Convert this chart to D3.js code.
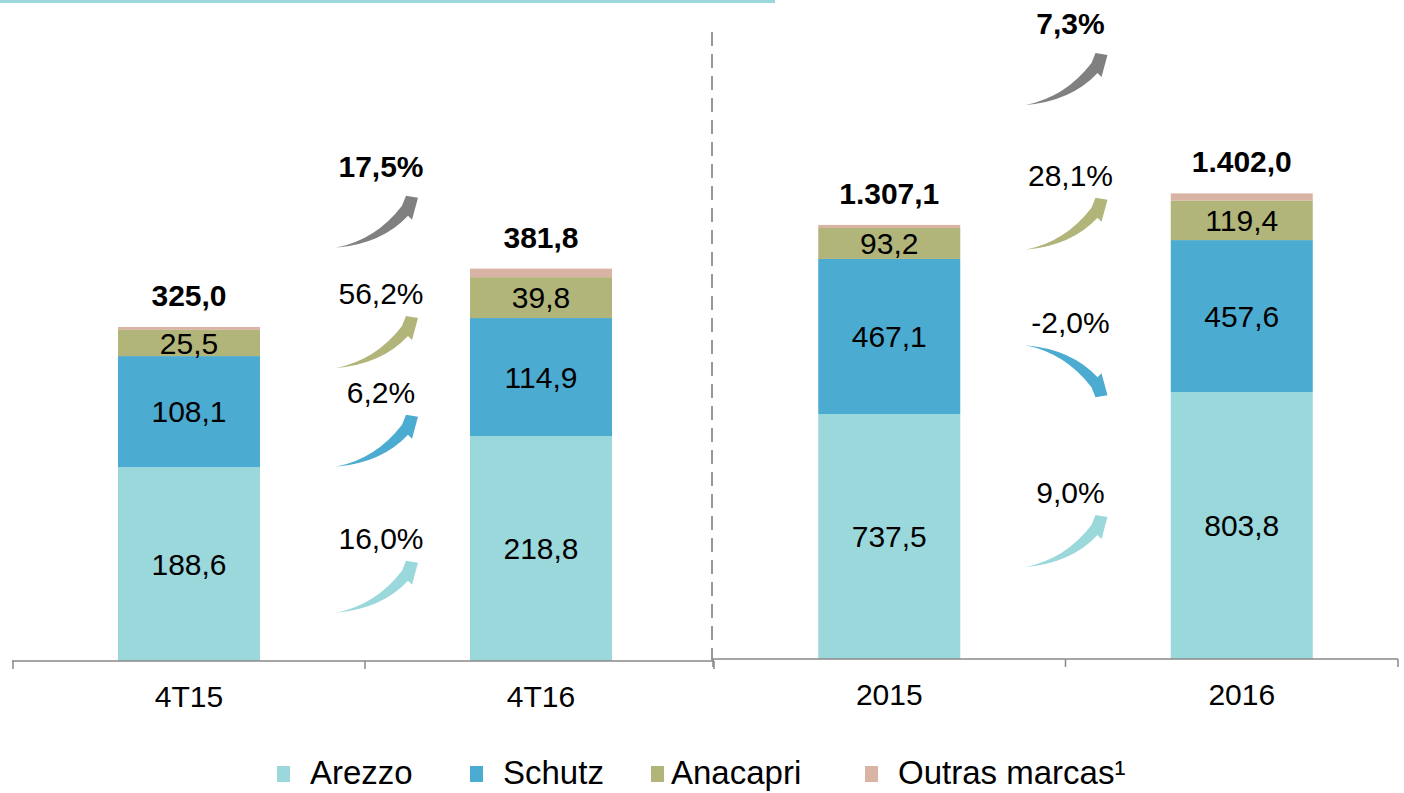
<!DOCTYPE html>
<html>
<head>
<meta charset="utf-8">
<script src="https://cdn.jsdelivr.net/npm/d3@7"></script>
<style>
  body { margin: 0; background: #fff; }
  text { font-family: Arial, "Liberation Sans", sans-serif; fill: #000; }
</style>
</head>
<body>
<div class="canva"></div>
<script>
// data
const brands = ["Arezzo", "Schutz", "Anacapri", "Outras marcas"];
const legendLabels = ["Arezzo", "Schutz", "Anacapri", "Outras marcas\u00b9"];
const brandColors = ["#9ad8dc", "#4cabd0", "#b1b57a", "#d9b4a4"];

const quarterCats = ["4T15", "4T16"];
const quarterArezzo = [188.6, 218.8];
const quarterSchutz = [108.1, 114.9];
const quarterAnacapri = [25.5, 39.8];
const quarterOutras = [2.8, 8.3];
const quarterTotals = ["325,0", "381,8"];

const yearCats = ["2015", "2016"];
const yearArezzo = [737.5, 803.8];
const yearSchutz = [467.1, 457.6];
const yearAnacapri = [93.2, 119.4];
const yearOutras = [9.3, 21.2];
const yearTotals = ["1.307,1", "1.402,0"];

// growth arrows: label per brand (last = total), tail level in data units
const quarterGrowth = ["16,0%", "6,2%", "56,2%", "17,5%"];
const quarterArrowLevel = [47, 189, 285, 402];
const yearGrowth = ["9,0%", "-2,0%", "28,1%", "7,3%"];
const yearArrowLevel = [277, 945, 1232, 1668];
const growthDir = [[1, 1, 1, 1], [1, -1, 1, 1]];

const fmt = v => d3.format(".1f")(v).replace(".", ",");

const svg = d3.select(".canva").append("svg")
  .attr("width", 1404)
  .attr("height", 793);

// top accent line
svg.append("rect")
  .attr("x", 0).attr("y", 0)
  .attr("width", 775).attr("height", 3)
  .attr("fill", "#9ad8dc");

// separator
svg.append("line")
  .attr("x1", 712).attr("x2", 712)
  .attr("y1", 32).attr("y2", 660)
  .attr("stroke", "#999")
  .attr("stroke-width", 2)
  .attr("stroke-dasharray", "14,8");

const arrowColors = brandColors.slice(0, 3).concat(["#808080"]);

function arrowPath(dir) {
  // tail at 0,0 ; tip up-right (dir 1) or down-right (dir -1)
  const p = [[0, 0], [40, -8], [66, -42], [70, -52], [82, -50], [76, -28], [72, -32], [46, -4]];
  const q = p.map(([x, y]) => [x, y * dir]);
  return `M${q[0]} Q${q[1]} ${q[2]} L${q[3]} L${q[4]} L${q[5]} L${q[6]} Q${q[7]} ${q[0]} Z`;
}

function drawPanel(opts) {
  const g = svg.append("g");
  const x = d3.scaleBand().domain(opts.cats).range(opts.xRange).padding(0);
  const y = d3.scaleLinear().domain([0, opts.yMax]).range([opts.base, opts.yTop]);
  const barW = 142;

  const rows = opts.cats.map((c, i) => ({
    cat: c,
    Arezzo: opts.series[0][i],
    Schutz: opts.series[1][i],
    Anacapri: opts.series[2][i],
    "Outras marcas": opts.series[3][i]
  }));
  const stacked = d3.stack().keys(brands)(rows);

  stacked.forEach((layer, li) => {
    g.selectAll(null)
      .data(layer)
      .enter()
      .append("rect")
      .attr("x", d => x(d.data.cat) + x.bandwidth() / 2 - barW / 2)
      .attr("y", d => y(d[1]))
      .attr("width", barW)
      .attr("height", d => y(d[0]) - y(d[1]))
      .attr("fill", brandColors[li]);

    if (li < 3) {
      g.selectAll(null)
        .data(layer)
        .enter()
        .append("text")
        .attr("x", d => x(d.data.cat) + x.bandwidth() / 2)
        .attr("y", d => (y(d[0]) + y(d[1])) / 2)
        .attr("dy", "0.36em")
        .attr("text-anchor", "middle")
        .style("font-size", "30px")
        .text(d => fmt(d[1] - d[0]));
    }
  });

  // totals
  const top = stacked[stacked.length - 1];
  g.selectAll(null)
    .data(top)
    .enter()
    .append("text")
    .attr("x", d => x(d.data.cat) + x.bandwidth() / 2)
    .attr("y", d => y(d[1]) - 21)
    .attr("text-anchor", "middle")
    .style("font-size", "30px")
    .style("font-weight", "bold")
    .text((d, i) => opts.totals[i]);

  // axis
  const ax = g.append("g").attr("stroke", "#888").attr("stroke-width", 1.5);
  ax.append("line")
    .attr("x1", opts.axisStart).attr("x2", opts.axisEnd)
    .attr("y1", opts.base).attr("y2", opts.base);
  const tickXs = opts.cats.map(c => x(c)).concat([x.range()[1]])
    .map(v => Math.min(v, opts.axisEnd));
  ax.selectAll(null).data(tickXs).enter().append("line")
    .attr("x1", d => d).attr("x2", d => d)
    .attr("y1", opts.base).attr("y2", opts.base + 8);

  g.selectAll(null)
    .data(opts.cats)
    .enter()
    .append("text")
    .attr("x", d => x(d) + x.bandwidth() / 2)
    .attr("y", opts.base + 46)
    .attr("text-anchor", "middle")
    .style("font-size", "30px")
    .text(d => d);

  // growth arrows
  const midX = (x(opts.cats[0]) + x(opts.cats[1]) + x.bandwidth()) / 2 + opts.arrowShift;
  opts.growth.forEach((lab, i) => {
    const dir = opts.dirs[i];
    const tx = midX - 41;
    const ty = y(opts.levels[i]);
    g.append("path")
      .attr("d", arrowPath(dir))
      .attr("transform", `translate(${tx},${ty})`)
      .attr("fill", arrowColors[i]);
    const topY = dir > 0 ? ty - 52 : ty;
    g.append("text")
      .attr("x", midX + 4)
      .attr("y", topY - (i === 3 ? 19 : 12))
      .attr("text-anchor", "middle")
      .style("font-size", "30px")
      .style("font-weight", i === 3 ? "bold" : "normal")
      .text(lab);
  });
}

drawPanel({
  cats: quarterCats,
  series: [quarterArezzo, quarterSchutz, quarterAnacapri, quarterOutras],
  totals: quarterTotals,
  growth: quarterGrowth,
  levels: quarterArrowLevel,
  dirs: growthDir[0],
  xRange: [13, 717],
  axisStart: 12,
  axisEnd: 714,
  base: 661,
  yMax: 600,
  yTop: 661 - 600 * 1.0277,
  arrowShift: 12
});

drawPanel({
  cats: yearCats,
  series: [yearArezzo, yearSchutz, yearAnacapri, yearOutras],
  totals: yearTotals,
  growth: yearGrowth,
  levels: yearArrowLevel,
  dirs: growthDir[1],
  xRange: [713, 1418],
  axisStart: 713,
  axisEnd: 1398,
  base: 659,
  yMax: 2000,
  yTop: 659 - 2000 * 0.3321,
  arrowShift: 1
});

// legend
const legendX = [277, 470, 651, 865];
const legend = svg.append("g");
legendLabels.forEach((lab, i) => {
  legend.append("rect")
    .attr("x", legendX[i]).attr("y", 766)
    .attr("width", 13).attr("height", 16)
    .attr("fill", brandColors[i]);
  legend.append("text")
    .attr("x", legendX[i] + (i === 2 ? 20 : 33))
    .attr("y", 784)
    .style("font-size", "33px")
    .text(lab);
});
</script>
</body>
</html>
